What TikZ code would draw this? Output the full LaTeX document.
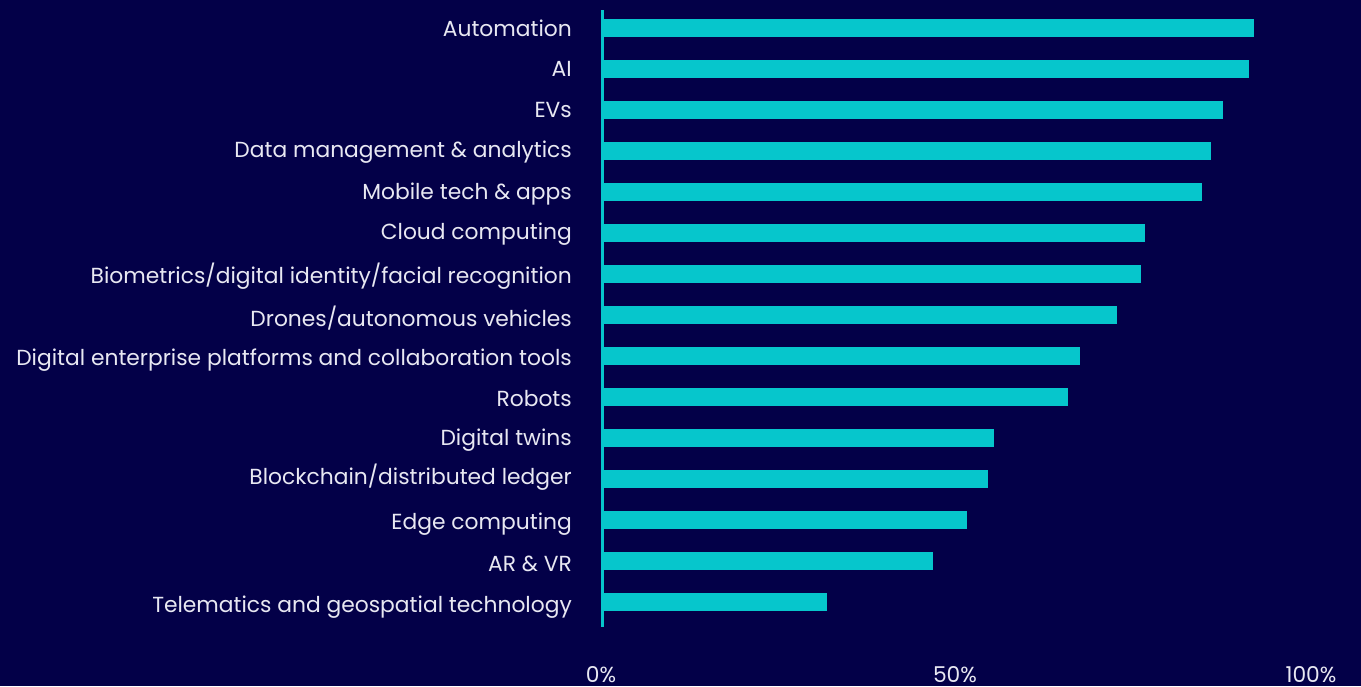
\documentclass[tikz,border=0pt]{standalone}
\usepackage{fontspec}
\setmainfont{Poppins}
\definecolor{bg}{RGB}{3,0,72}
\definecolor{bar}{RGB}{6,198,204}
\definecolor{txt}{RGB}{232,232,242}
\begin{document}
\begin{tikzpicture}[x=1pt,y=-1pt,
  lbl/.style={anchor=base east,inner sep=0pt,text=txt,font=\fontsize{21.8}{26}\selectfont},
  tick/.style={anchor=base,inner sep=0pt,text=txt,font=\fontsize{21.8}{26}\selectfont},
  barbox/.style={fill=bar,draw=none}]
\fill[bg] (0,0) rectangle (1361,686);
\useasboundingbox (0,0) rectangle (1361,686);
% bars: index, end x, label y-center, label
\foreach \i/\e/\ly/\t in {
 0/1254/29/Automation,
 1/1249/69/AI,
 2/1223/110/EVs,
 3/1211/150/Data management \& analytics,
 4/1202/192/Mobile tech \& apps,
 5/1145/232/Cloud computing,
 6/1141/276/Biometrics\slash digital identity\slash facial recognition,
 7/1117/319/Drones\slash autonomous vehicles,
 8/1080/358/Digital enterprise platforms and collaboration tools,
 9/1068/399/Robots,
 10/994/438/Digital twins,
 11/988/477/Blockchain\slash distributed ledger,
 12/967/522/Edge computing,
 13/933/564/AR \& VR,
 14/827/605/Telematics and geospatial technology}{
  \pgfmathsetmacro{\yt}{19+41*\i}
  \fill[barbox] (603,\yt) rectangle (\e,\yt+18);
  \node[lbl] (l\i) at (572,\ly+7.8) {\t};
}
\fill[bar] (601,10) rectangle (604,627);
\node[tick] (t0) at (601,682.5) {0\%};
\node[tick] (t50) at (955,682.5) {50\%};
\node[tick] (t100) at (1311,682.5) {100\%};
\end{tikzpicture}
\end{document}
